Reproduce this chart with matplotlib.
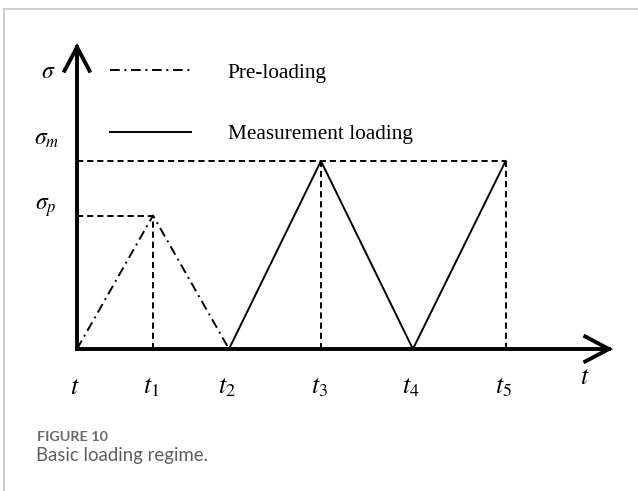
import matplotlib
matplotlib.use("Agg")
import matplotlib.pyplot as plt
from matplotlib.lines import Line2D

plt.rcParams['mathtext.fontset'] = 'stix'
plt.rcParams['font.family'] = 'Liberation Serif'

# ---- data ----
times = [0, 1.0, 2.0, 3.21, 4.42, 5.64]          # t, t1 .. t5
sigma_m = 1.0
sigma_p = 0.71
time_labels = [r'$t$', r'$t_{\mathit{1}}$', r'$t_{\mathit{2}}$', r'$t_{\mathit{3}}$',
               r'$t_{\mathit{4}}$', r'$t_{\mathit{5}}$']
pre_t = [times[0], times[1], times[2]]
pre_s = [0, sigma_p, 0]
meas_t = [times[2], times[3], times[4], times[5]]
meas_s = [0, sigma_m, 0, sigma_m]
legend_labels = ['Pre-loading', 'Measurement loading']
caption_head = 'FIGURE 10'
caption_text = 'Basic loading regime.'

W, H = 638, 491
fig = plt.figure(figsize=(W / 100, H / 100), dpi=100)

x0, y0 = 77, 349            # origin pixel
xtip, ytip = 613, 43
xunit, yunit = 76.0, 188.0
ax = fig.add_axes([x0 / W, 1 - y0 / H, (xtip - x0) / W, (y0 - ytip) / H])
xmax = (xtip - x0) / xunit
ymax = (y0 - ytip) / yunit
ax.set_xlim(0, xmax)
ax.set_ylim(0, ymax)
ax.axis('off')

# axes arrows
arrow_kw = dict(arrowstyle='->,head_length=0.85,head_width=0.45', lw=2.8, color='black',
                shrinkA=0, shrinkB=0, mutation_scale=20, capstyle='projecting',
                joinstyle='miter')
ax.annotate('', xy=(xmax, 0), xytext=(0, 0), arrowprops=arrow_kw, annotation_clip=False)
ax.annotate('', xy=(0, ymax), xytext=(0, 0), arrowprops=arrow_kw, annotation_clip=False)

dash = (0, (3.2, 2.0))
lw_d = 1.4
# guide lines
ax.plot([0, times[5]], [sigma_m, sigma_m], color='black', lw=lw_d, linestyle=dash, clip_on=False)
ax.plot([0, times[1]], [sigma_p, sigma_p], color='black', lw=lw_d, linestyle=dash, clip_on=False)
ax.plot([times[1], times[1]], [0, sigma_p], color='black', lw=lw_d, linestyle=dash, clip_on=False)
ax.plot([times[3], times[3]], [0, sigma_m], color='black', lw=lw_d, linestyle=dash, clip_on=False)
ax.plot([times[5], times[5]], [0, sigma_m], color='black', lw=lw_d, linestyle=dash, clip_on=False)

dashdot = (0, (5.0, 2.4, 1.0, 2.4))
l1, = ax.plot(pre_t, pre_s, color='black', lw=1.4, linestyle=dashdot, clip_on=False)
l2, = ax.plot(meas_t, meas_s, color='black', lw=1.4, linestyle='-', clip_on=False)

leg = fig.legend([l1, l2], legend_labels, loc='upper left',
                 bbox_to_anchor=(110 / W, 1 - 63 / H), frameon=False,
                 fontsize=15.3, handlelength=3.8, handletextpad=1.74,
                 labelspacing=1.94, borderpad=0, borderaxespad=0)

# y labels
tkw = dict(textcoords='offset pixels', ha='center', va='center', fontsize=17,
           annotation_clip=False)
ax.annotate(r'$\sigma$', xy=(0, ymax), xytext=(-29, -30), **tkw)
ax.annotate(r'$\sigma_m$', xy=(0, sigma_m), xytext=(-30, 21), **tkw)
ax.annotate(r'$\sigma_p$', xy=(0, sigma_p), xytext=(-31, 8), **tkw)

# time labels
tkw['fontsize'] = 18.5
for t, lab in zip(times, time_labels):
    ax.annotate(lab, xy=(t, 0), xytext=(-2, -39), **tkw)
ax.annotate(r'$t$', xy=(xmax, 0), xytext=(-28, -29), **tkw)

# caption
fig.text(37 / W, 1 - 437 / H, caption_head, fontfamily='Lato', fontweight='bold',
         fontsize=10.4, color='#6b6b6b', va='center', ha='left')
fig.text(36 / W, 1 - 456 / H, caption_text, fontfamily='Lato',
         fontsize=13.4, color='#5e5e5e', va='center', ha='left')

# card frame
fig.add_artist(Line2D([4 / W, 4 / W], [0, 1 - 9 / H], transform=fig.transFigure,
                      color='#c4c4c4', lw=1.2))
fig.add_artist(Line2D([4 / W, 1], [1 - 9 / H, 1 - 9 / H], transform=fig.transFigure,
                      color='#c4c4c4', lw=1.2))

fig.savefig('out.png', dpi=100)
